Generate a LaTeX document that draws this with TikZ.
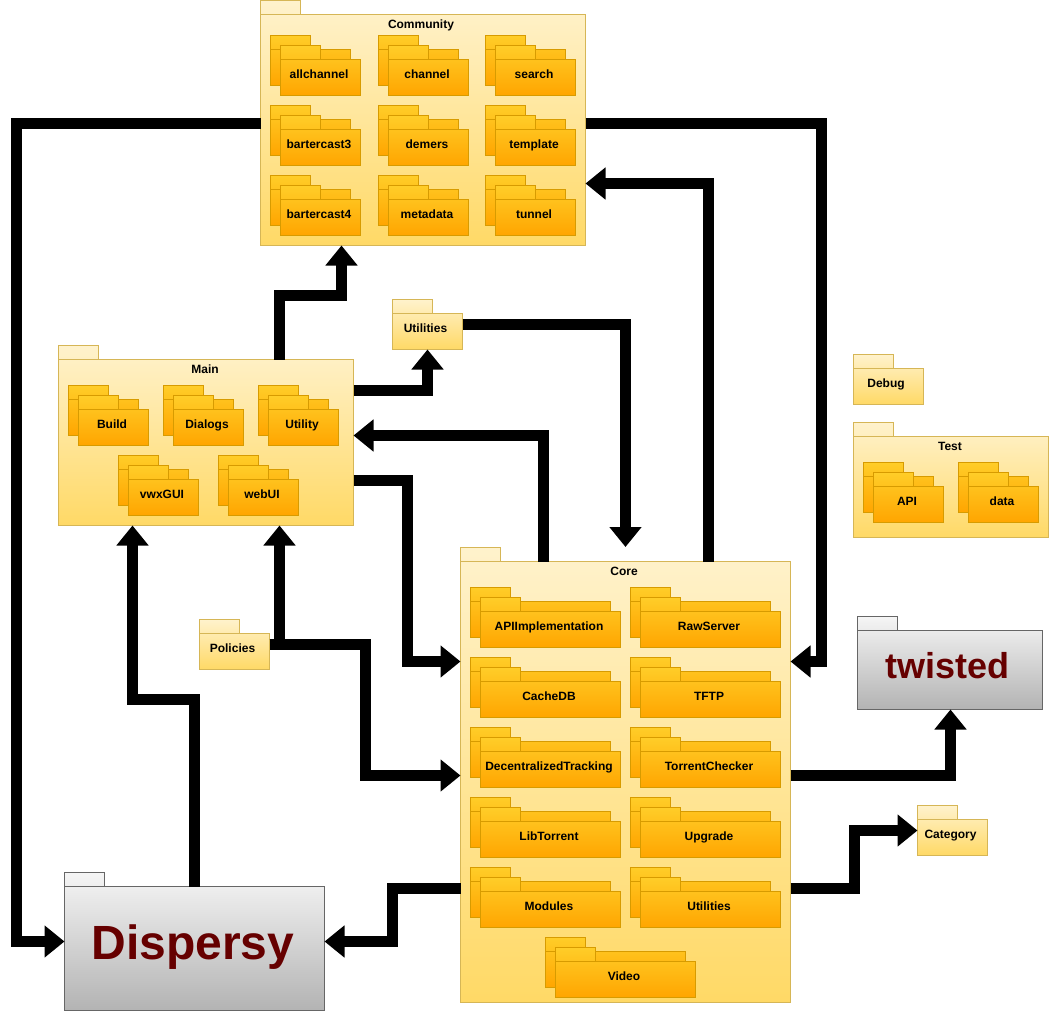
\documentclass[tikz,border=0pt]{standalone}
\usepackage{fontspec}
\setmainfont{Liberation Sans}
\usetikzlibrary{arrows.meta}
\definecolor{yellowtop}{HTML}{FFF2CC}\definecolor{yellowbot}{HTML}{FFD966}\definecolor{yellowline}{HTML}{D6B656}
\definecolor{orangetop}{HTML}{FFCD28}\definecolor{orangebot}{HTML}{FFA500}\definecolor{orangeline}{HTML}{D79B00}
\definecolor{graytop}{HTML}{F5F5F5}\definecolor{graybot}{HTML}{B3B3B3}\definecolor{grayline}{HTML}{666666}
\definecolor{darkred}{HTML}{660000}
\tikzset{
  yellowpkg/.style={draw=yellowline,top color=yellowtop,bottom color=yellowbot,line width=1pt},
  orangepkg/.style={draw=orangeline,top color=orangetop,bottom color=orangebot,line width=1pt},
  graypkg/.style={draw=grayline,top color=graytop,bottom color=graybot,line width=1pt},
  yellowpkgedge/.style={draw=yellowline,line width=1pt},
  orangepkgedge/.style={draw=orangeline,line width=1pt},
  graypkgedge/.style={draw=grayline,line width=1pt},
  bodybox/.style={rectangle,inner sep=0pt,outer sep=0pt,anchor=north west},
  pkglabel/.style={font=\fontsize{12}{14}\selectfont\bfseries,text=black,inner sep=0pt,anchor=base},
  biglabel/.style={font=\fontsize{#1}{#1}\selectfont\bfseries,text=darkred,inner sep=0pt,anchor=base},
  conn/.style={draw=black,line width=10.5pt,line join=miter,-{Triangle[length=20pt,width=31pt]}}
}
% outline: style, x, y, right, bottom
\newcommand{\folder}[5]{%
  \path[#1] (#2,#3) -- ({#2+40},#3) -- ({#2+40},{#3+14}) -- (#4,{#3+14}) -- (#4,#5) -- (#2,#5) -- cycle;
  \path[#1edge] (#2,{#3+14}) -- ({#2+40},{#3+14});
}
% package: name, style, x, y, right, bottom
\newcommand{\pkgbox}[6]{%
  \folder{#2}{#3}{#4}{#5}{#6}
  \pgfmathsetlengthmacro{\bw}{(#5)-(#3)}\pgfmathsetlengthmacro{\bh}{(#6)-(#4)-14}
  \node[bodybox,minimum width=\bw,minimum height=\bh] (#1) at (#3,{#4+14}) {};
}
% nested package: name, x, y, body width, label
\newcommand{\subpkg}[5]{%
  \pgfmathsetmacro{\sxa}{#2+#4}\pgfmathsetmacro{\sya}{#3+50}
  \pgfmathsetmacro{\sxb}{#2+10}\pgfmathsetmacro{\syb}{#3+10}
  \pgfmathsetmacro{\sxc}{#2+10+#4}\pgfmathsetmacro{\syc}{#3+60}
  \folder{orangepkg}{#2}{#3}{\sxa}{\sya}
  \folder{orangepkg}{\sxb}{\syb}{\sxc}{\syc}
  \node[pkglabel] (#1) at ({#2+10+#4/2-1.5},{#3+43}) {#5};
}
\begin{document}
\begin{tikzpicture}[x=1pt,y=-1pt]
\useasboundingbox (0,0) rectangle (1050,1031);
% Community
\pkgbox{community}{yellowpkg}{260.5}{0.5}{585.5}{245.5}
\node[pkglabel] (communitytitle) at (421,28.5) {Community};
\subpkg{allchannel}{270.5}{35.5}{80}{allchannel}
\subpkg{channel}{378.5}{35.5}{80}{channel}
\subpkg{search}{485.5}{35.5}{80}{search}
\subpkg{bartercastthree}{270.5}{105.5}{80}{bartercast3}
\subpkg{demers}{378.5}{105.5}{80}{demers}
\subpkg{template}{485.5}{105.5}{80}{template}
\subpkg{bartercastfour}{270.5}{175.5}{80}{bartercast4}
\subpkg{metadata}{378.5}{175.5}{80}{metadata}
\subpkg{tunnel}{485.5}{175.5}{80}{tunnel}
% Main
\pkgbox{main}{yellowpkg}{58.5}{345.5}{353.5}{525.5}
\node[pkglabel] (maintitle) at (205,373.5) {Main};
\subpkg{build}{68.5}{385.5}{70}{Build}
\subpkg{dialogs}{163.5}{385.5}{70}{Dialogs}
\subpkg{utility}{258.5}{385.5}{70}{Utility}
\subpkg{vwxgui}{118.5}{455.5}{70}{vwxGUI}
\subpkg{webui}{218.5}{455.5}{70}{webUI}
% Core
\pkgbox{core}{yellowpkg}{460.5}{547.5}{790.5}{1002.5}
\node[pkglabel] (coretitle) at (624,575.5) {Core};
\subpkg{apiimpl}{470.5}{587.5}{140}{APIImplementation}
\subpkg{rawserver}{630.5}{587.5}{140}{RawServer}
\subpkg{cachedb}{470.5}{657.5}{140}{CacheDB}
\subpkg{tftp}{630.5}{657.5}{140}{TFTP}
\subpkg{dectrack}{470.5}{727.5}{140}{DecentralizedTracking}
\subpkg{torrentchecker}{630.5}{727.5}{140}{TorrentChecker}
\subpkg{libtorrent}{470.5}{797.5}{140}{LibTorrent}
\subpkg{upgrade}{630.5}{797.5}{140}{Upgrade}
\subpkg{modules}{470.5}{867.5}{140}{Modules}
\subpkg{coreutilities}{630.5}{867.5}{140}{Utilities}
\subpkg{video}{545.5}{937.5}{140}{Video}
% Small packages
\pkgbox{utilities}{yellowpkg}{392.5}{299.5}{462.5}{349.5}
\node[pkglabel] (utilitieslabel) at (425.5,332.5) {Utilities};
\pkgbox{policies}{yellowpkg}{199.5}{619.5}{269.5}{669.5}
\node[pkglabel] (policieslabel) at (232.5,652.5) {Policies};
\pkgbox{debug}{yellowpkg}{853.5}{354.5}{923.5}{404.5}
\node[pkglabel] (debuglabel) at (886,387.5) {Debug};
\pkgbox{category}{yellowpkg}{917.5}{805.5}{987.5}{855.5}
\node[pkglabel] (categorylabel) at (950.5,838) {Category};
% Test
\pkgbox{test}{yellowpkg}{853.5}{422.5}{1048.5}{537.5}
\node[pkglabel] (testtitle) at (950,450.5) {Test};
\subpkg{api}{863.5}{462.5}{70}{API}
\subpkg{data}{958.5}{462.5}{70}{data}
% Gray
\pkgbox{twisted}{graypkg}{857.5}{616.5}{1042.5}{709.5}
\node[biglabel=36] (twistedlabel) at (947.5,678.5) {twisted};
\pkgbox{dispersy}{graypkg}{64.5}{872.5}{324.5}{1010.5}
\node[biglabel=48] (dispersylabel) at (193,959.5) {Dispersy};
% Connectors
\path[conn] (community.west |- 0,123.5) -- (16.5,123.5) -- (16.5,941.5) -- (dispersy.west |- 0,941.5);
\path[conn] (community.east |- 0,123.5) -- (821.5,123.5) -- (821.5,661.5) -- (core.east |- 0,661.5);
\path[conn] (core.north -| 708.5,0) -- (708.5,183.5) -- (community.east |- 0,183.5);
\path[conn] (main.north -| 279.5,0) -- (279.5,295.5) -- (341.5,295.5) -- (community.south -| 341.5,0);
\path[conn] (main.east |- 0,390.5) -- (427.5,390.5) -- (utilities.south -| 427.5,0);
\path[conn] (utilities.east |- 0,324.5) -- (625.5,324.5) -- (625.5,547);
\path[conn] (core.north -| 543.5,0) -- (543.5,435.5) -- (main.east |- 0,435.5);
\path[conn] (main.east |- 0,480.5) -- (407.5,480.5) -- (407.5,661.5) -- (core.west |- 0,661.5);
\path[conn] (policies.east |- 0,644.5) -- (279.5,644.5) -- (main.south -| 279.5,0);
\path[conn] (policies.east |- 0,644.5) -- (365.5,644.5) -- (365.5,775.5) -- (core.west |- 0,775.5);
\path[conn] (dispersy.north -| 194.5,0) -- (194.5,699.5) -- (132.5,699.5) -- (main.south -| 132.5,0);
\path[conn] (core.west |- 0,888.5) -- (392.5,888.5) -- (392.5,941.5) -- (dispersy.east |- 0,941.5);
\path[conn] (core.east |- 0,775.5) -- (950.5,775.5) -- (twisted.south -| 950.5,0);
\path[conn] (core.east |- 0,888.5) -- (854.5,888.5) -- (854.5,830.5) -- (category.west |- 0,830.5);
\end{tikzpicture}
\end{document}
